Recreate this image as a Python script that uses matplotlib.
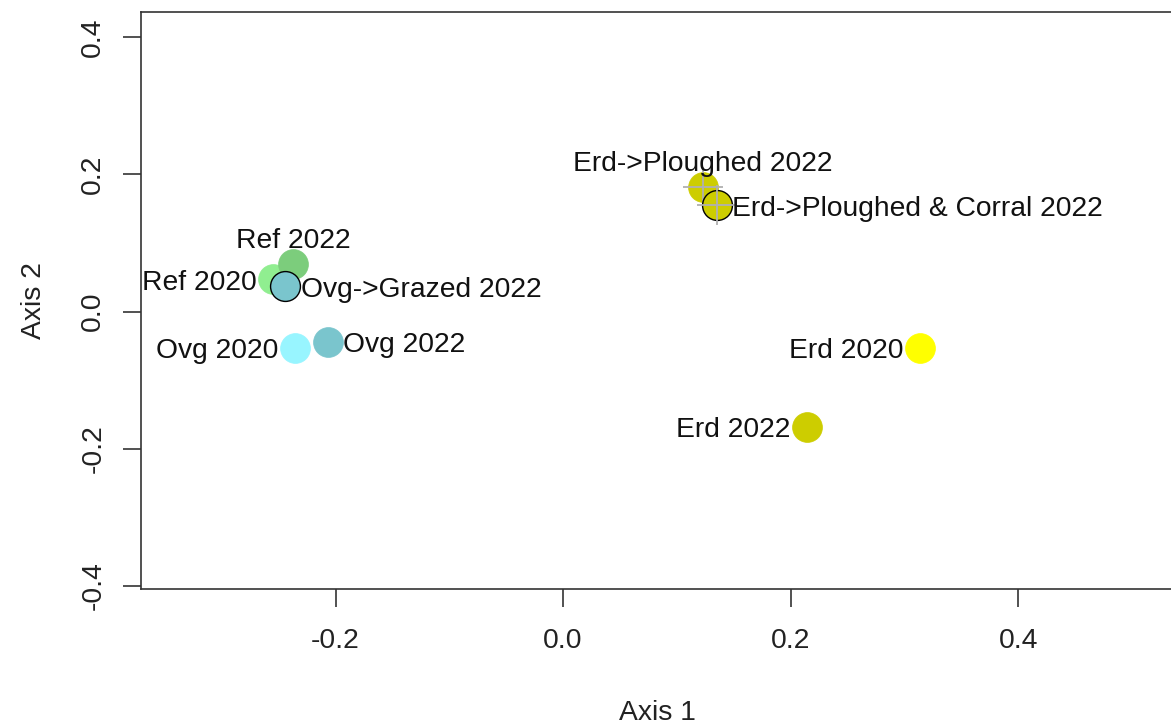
import matplotlib
matplotlib.use("Agg")
import matplotlib.pyplot as plt

plt.rcParams["font.family"] = ["Liberation Sans", "DejaVu Sans"]

# ordination scores per site / year
labels = ["Ref 2020", "Ref 2022", "Ovg 2020", "Ovg 2022", "Ovg->Grazed 2022",
          "Erd 2020", "Erd 2022", "Erd->Ploughed 2022", "Erd->Ploughed & Corral 2022"]
axis1 = [-0.255, -0.237, -0.236, -0.207, -0.244, 0.314, 0.2145, 0.123, 0.135]
axis2 = [0.047, 0.069, -0.053, -0.044, 0.037, -0.053, -0.168, 0.181, 0.155]
colors = ["#90EE90", "#7CCD7C", "#98F5FF", "#7AC5CD", "#7AC5CD",
          "#FFFF00", "#CDCD00", "#CDCD00", "#CDCD00"]
outlined = [False, False, False, False, True, False, False, False, True]
crosshair = [False, False, False, False, False, False, False, True, True]
label_pos = ["left", "above", "left", "right", "right", "left", "left", "above", "right"]

xticks = [-0.2, 0.0, 0.2, 0.4]
yticks = [-0.4, -0.2, 0.0, 0.2, 0.4]

fig = plt.figure(figsize=(11.71, 7.24), dpi=100)
ax = fig.add_axes([0.1204, 0.1865, 0.8813, 0.7969])

for x, y, c, o, cr in zip(axis1, axis2, colors, outlined, crosshair):
    ax.plot(x, y, "o", ms=21.5, mfc=c, mec="black" if o else c,
            mew=1.0 if o else 0.5, zorder=3)
    if cr:
        ax.plot(x, y, "+", ms=29, mew=1.3, color="#B0B0B0", zorder=3)

fs = 20.3
offsets = {"left": (-12, -2.5, "right", "center"),
           "right": (11, -2.5, "left", "center"),
           "above": (0, 17, "center", "center")}
for lab, x, y, p in zip(labels, axis1, axis2, label_pos):
    dx, dy, ha, va = offsets[p]
    ax.annotate(lab, (x, y), xytext=(dx, dy), textcoords="offset points",
                ha=ha, va=va, fontsize=fs, color="#111111", zorder=4)

ax.set_xlim(-0.371, 0.536)
ax.set_ylim(-0.4045, 0.4366)
ax.set_xticks(xticks)
ax.set_yticks(yticks)
ax.set_xticklabels([f"{v:.1f}" for v in xticks])
ax.set_yticklabels([f"{v:.1f}" for v in yticks], rotation=90, va="center")
ax.tick_params(length=13, width=1.2, labelsize=fs, color="#333333",
               labelcolor="#222222", pad=12)
ax.tick_params(axis="x", pad=15)
for s in ax.spines.values():
    s.set_color("#333333")
    s.set_linewidth(1.2)

ax.set_xlabel("Axis 1", fontsize=fs, color="#222222", labelpad=33)
ax.set_ylabel("Axis 2", fontsize=fs, color="#222222", labelpad=24)

fig.savefig("out.png", dpi=100)
